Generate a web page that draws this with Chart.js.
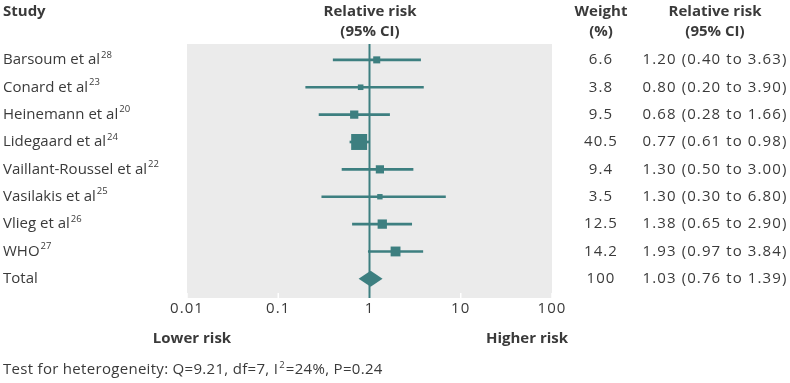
<!DOCTYPE html>
<html>
<head>
<meta charset="utf-8">
<script src="https://cdn.jsdelivr.net/npm/chart.js@4"></script>
<style>
  html, body { margin: 0; padding: 0; background: #fff; }
  #wrap { width: 790px; height: 383px; position: relative; }
</style>
</head>
<body>
<div id="wrap"><canvas id="forest" width="790" height="383"></canvas></div>
<script>
// data
const studies = ["Barsoum et al", "Conard et al", "Heinemann et al", "Lidegaard et al",
    "Vaillant-Roussel et al", "Vasilakis et al", "Vlieg et al", "WHO"];
const refs = ["28", "23", "20", "24", "22", "25", "26", "27"];
const rr = [1.20, 0.80, 0.68, 0.77, 1.30, 1.30, 1.38, 1.93];
const lower = [0.40, 0.20, 0.28, 0.61, 0.50, 0.30, 0.65, 0.97];
const upper = [3.63, 3.90, 1.66, 0.98, 3.00, 6.80, 2.90, 3.84];
const weights = ["6.6", "3.8", "9.5", "40.5", "9.4", "3.5", "12.5", "14.2"];
const total = { label: "Total", rr: 1.03, lower: 0.76, upper: 1.39, weight: "100" };
const xTicks = [0.01, 0.1, 1, 10, 100];

const teal = "#3d7f80";
const grey = "#ebebeb";
const textColor = "#3a3a3a";
const fontFamily = "'Open Sans', 'Noto Sans', sans-serif";
const numSpacing = "1.1px"; // digits in the original are wider than Open Sans

function ciText(r, l, u) {
    return r.toFixed(2) + " (" + l.toFixed(2) + " to " + u.toFixed(2) + ")";
}

// square side grows with the study weight
function boxRadius(c) {
    const side = 1 + 2.35 * Math.sqrt(parseFloat(weights[c.dataIndex]));
    return side / Math.SQRT2;
}

// gray panel behind the plot
const panelPlugin = {
    id: "panel",
    beforeDraw(chart) {
        const { ctx, chartArea: a } = chart;
        ctx.save();
        ctx.fillStyle = grey;
        ctx.fillRect(a.left, a.top, a.right - a.left, a.bottom - a.top);
        // little white tick marks at the bottom edge
        const xs = chart.scales.x;
        ctx.strokeStyle = "#ffffff";
        ctx.lineWidth = 1.5;
        xTicks.forEach(t => {
            const px = xs.getPixelForValue(t);
            ctx.beginPath();
            ctx.moveTo(px, a.bottom - 5);
            ctx.lineTo(px, a.bottom);
            ctx.stroke();
        });
        // line of no effect
        const x1 = xs.getPixelForValue(1);
        ctx.strokeStyle = teal;
        ctx.lineWidth = 2;
        ctx.beginPath();
        ctx.moveTo(x1, a.top);
        ctx.lineTo(x1, a.bottom);
        ctx.stroke();
        ctx.restore();
        // wider figures for the axis tick labels
        ctx.letterSpacing = numSpacing;
    },
    beforeDatasetsDraw(chart) {
        chart.ctx.letterSpacing = "0px";
    }
};

// diamond for pooled estimate + all the text columns
const textPlugin = {
    id: "forestText",
    afterDraw(chart) {
        const { ctx } = chart;
        const xs = chart.scales.x, ys = chart.scales.y;
        ctx.save();
        ctx.letterSpacing = "0px";

        // diamond
        const yt = ys.getPixelForValue(studies.length);
        ctx.fillStyle = teal;
        ctx.beginPath();
        ctx.moveTo(xs.getPixelForValue(total.lower), yt);
        ctx.lineTo(xs.getPixelForValue(total.rr), yt - 8);
        ctx.lineTo(xs.getPixelForValue(total.upper), yt);
        ctx.lineTo(xs.getPixelForValue(total.rr), yt + 8);
        ctx.closePath();
        ctx.fill();

        ctx.fillStyle = textColor;
        ctx.textBaseline = "middle";

        // headers
        ctx.font = "bold 15px " + fontFamily;
        ctx.textAlign = "left";
        ctx.fillText("Study", 3, 12);
        ctx.textAlign = "center";
        ctx.fillText("Relative risk", 370, 12);
        ctx.fillText("(95% CI)", 370, 32);
        ctx.fillText("Weight", 601, 12);
        ctx.fillText("(%)", 601, 32);
        ctx.fillText("Relative risk", 715, 12);
        ctx.fillText("(95% CI)", 715, 32);
        ctx.fillText("Lower risk", 192, 339);
        ctx.fillText("Higher risk", 527, 339);

        // rows
        const rows = studies.map((s, i) => ({
            name: s, sup: refs[i], w: weights[i], ci: ciText(rr[i], lower[i], upper[i])
        }));
        rows.push({ name: total.label, sup: "", w: total.weight, ci: ciText(total.rr, total.lower, total.upper) });
        rows.forEach((r, i) => {
            const y = ys.getPixelForValue(i);
            ctx.font = "15px " + fontFamily;
            ctx.textAlign = "left";
            ctx.letterSpacing = "0px";
            ctx.fillText(r.name, 3, y);
            if (r.sup) {
                const wName = ctx.measureText(r.name).width;
                ctx.font = "9.5px " + fontFamily;
                ctx.fillText(r.sup, 3 + wName + 1, y - 5);
                ctx.font = "15px " + fontFamily;
            }
            ctx.textAlign = "center";
            ctx.letterSpacing = numSpacing;
            ctx.fillText(r.w, 601, y);
            ctx.fillText(r.ci, 715, y);
        });

        ctx.font = "15px " + fontFamily;
        ctx.textAlign = "left";
        ctx.letterSpacing = "0.3px";
        ctx.fillText("Test for heterogeneity: Q=9.21, df=7, I", 3, 370);
        let w = ctx.measureText("Test for heterogeneity: Q=9.21, df=7, I").width;
        ctx.font = "9.5px " + fontFamily;
        ctx.fillText("2", 3 + w + 1, 365);
        const w2 = ctx.measureText("2").width;
        ctx.font = "15px " + fontFamily;
        ctx.fillText("=24%, P=0.24", 3 + w + w2 + 2, 370);
        ctx.restore();
    }
};

const ctx = document.getElementById("forest").getContext("2d");
new Chart(ctx, {
    data: {
        datasets: [
            {
                type: "bar",
                indexAxis: "y",
                data: studies.map((s, i) => ({ y: i, x: [lower[i], upper[i]] })),
                backgroundColor: teal,
                borderWidth: 0,
                barThickness: 2,
                order: 2
            },
            {
                type: "scatter",
                data: studies.map((s, i) => ({ x: rr[i], y: i })),
                backgroundColor: teal,
                borderWidth: 0,
                pointStyle: "rect",
                pointRadius: boxRadius,
                pointHoverRadius: boxRadius,
                order: 1
            }
        ]
    },
    options: {
        responsive: false,
        animation: false,
        devicePixelRatio: 1,
        layout: { padding: { left: 187, right: 238, top: 44, bottom: 63 } },
        plugins: { legend: { display: false }, tooltip: { enabled: false } },
        scales: {
            x: {
                type: "logarithmic",
                min: 0.01,
                max: 100,
                afterBuildTicks: axis => { axis.ticks = xTicks.map(v => ({ value: v })); },
                afterFit: axis => { axis.height = 22; },
                grid: { display: false, drawTicks: false },
                border: { display: false },
                ticks: {
                    color: textColor,
                    font: { family: fontFamily, size: 15 },
                    padding: 2,
                    maxRotation: 0,
                    autoSkip: false,
                    callback: v => String(v)
                }
            },
            y: {
                type: "linear",
                display: false,
                reverse: true,
                offset: false,
                min: -0.58,
                max: 8.7
            }
        }
    },
    plugins: [panelPlugin, textPlugin]
});
</script>
</body>
</html>
